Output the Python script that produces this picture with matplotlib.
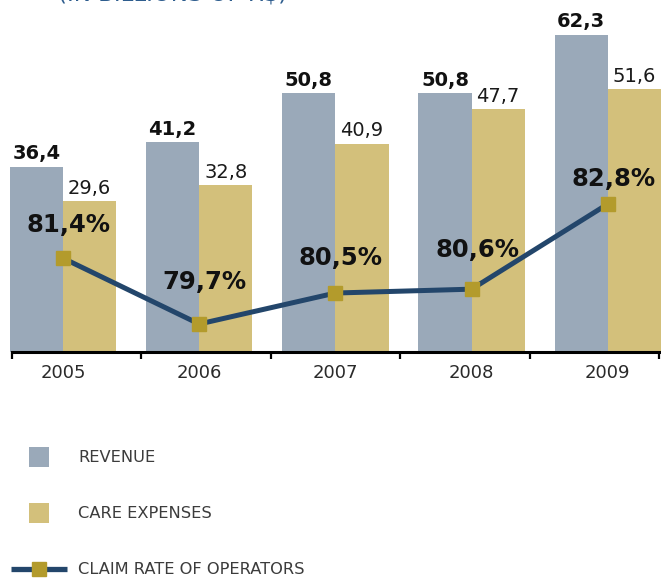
import numpy as np
import matplotlib
matplotlib.use("Agg")
import matplotlib.pyplot as plt
from matplotlib.patches import Rectangle
from matplotlib.lines import Line2D

# Data (values in billions of R$, claim rate in %)
years = ["2005", "2006", "2007", "2008", "2009"]
revenue = [36.4, 41.2, 50.8, 50.8, 62.3]
care_expenses = [29.6, 32.8, 40.9, 47.7, 51.6]
claim_rate = [81.4, 79.7, 80.5, 80.6, 82.8]

# Styling
REV_COLOR = "#9AA9B9"
EXP_COLOR = "#D3C07B"
LINE_COLOR = "#23466B"
MARK_COLOR = "#B39B2C"
TEXT_DARK = "#111111"
LEGEND_TEXT = "#3C3C3C"

W, H = 661, 578
DPI = 100
fig = plt.figure(figsize=(W / DPI, H / DPI), dpi=DPI)

# Axes covers the area from the figure top down to the baseline
base_px = 352
ax_left_px = 12
ax = fig.add_axes([ax_left_px / W, 1 - base_px / H, (W - ax_left_px) / W, base_px / H])
x = np.arange(len(years))
bw = 0.39
px_per_unit = 136.2
first_center_px = 63
x_left = (ax_left_px - first_center_px) / px_per_unit
x_right = (W - first_center_px) / px_per_unit
ax.set_xlim(x_left, x_right)
ax.set_ylim(0, base_px / 5.09)

ax.bar(x - bw / 2, revenue, width=bw, color=REV_COLOR, clip_on=False, zorder=2)
ax.bar(x + bw / 2, care_expenses, width=bw, color=EXP_COLOR, clip_on=False, zorder=2)

for xi, v in zip(x, revenue):
    ax.annotate(f"{v:.1f}".replace(".", ","), (xi - bw / 2, v), xytext=(0, 2.5),
                textcoords="offset points", ha="center", va="bottom",
                fontsize=14, fontweight="bold", color=TEXT_DARK)
for xi, v in zip(x, care_expenses):
    ax.annotate(f"{v:.1f}".replace(".", ","), (xi + bw / 2, v), xytext=(0, 2.5),
                textcoords="offset points", ha="center", va="bottom",
                fontsize=14, color="#1A1A1A")

# Spines and ticks
for s in ["top", "right", "left"]:
    ax.spines[s].set_visible(False)
ax.spines["bottom"].set_linewidth(2.2)
ax.spines["bottom"].set_color("#000000")
ax.set_yticks([])
ax.set_xticks(x)
ax.set_xticklabels(years, fontsize=13, color="#2A2A2A")
ax.tick_params(axis="x", which="major", length=0, pad=9)
ax.set_xticks(np.linspace(x_left, (659 - first_center_px) / px_per_unit, 6), minor=True)
ax.tick_params(axis="x", which="minor", length=5, width=1.6, color="#000000",
               direction="out")

# Claim rate line on a secondary scale
ax2 = ax.twinx()
ax2.set_ylim(79.7 - (base_px - 324) / 38.71, 82.8 + 204 / 38.71)
ax2.set_xlim(ax.get_xlim())
ax2.axis("off")
ax2.plot(x, claim_rate, color=LINE_COLOR, linewidth=3.6, zorder=3,
         marker="s", markersize=10, markerfacecolor=MARK_COLOR,
         markeredgecolor=MARK_COLOR, solid_capstyle="butt")
label_lift = [24, 30, 25, 28, 18]
for xi, v, lift in zip(x, claim_rate, label_lift):
    ax2.annotate(f"{v:.1f}%".replace(".", ","), (xi, v), xytext=(4, lift),
                 textcoords="offset points", ha="center", va="center",
                 fontsize=17.5, fontweight="bold", color=TEXT_DARK)

# Subtitle (partly above the top edge)
fig.text(58 / W, 1 - 0.5 / H, "(IN BILLIONS OF R$)", ha="left", va="baseline",
         fontsize=16.5, color="#2E5D8E")

# Legend
def px(xp, yp):
    return xp / W, 1 - yp / H

for yc, col, lab in [(457, REV_COLOR, "REVENUE"), (513, EXP_COLOR, "CARE EXPENSES")]:
    x0, y0 = px(29, yc + 10)
    fig.add_artist(Rectangle((x0, y0), 20 / W, 20 / H, transform=fig.transFigure,
                             facecolor=col, edgecolor="none"))
    fig.text(78 / W, 1 - yc / H, lab, ha="left", va="center",
             fontsize=11.7, color=LEGEND_TEXT)

ly = 569
fig.add_artist(Line2D([11 / W, 67 / W], [1 - ly / H] * 2, transform=fig.transFigure,
                      color=LINE_COLOR, linewidth=3.8, solid_capstyle="butt"))
fig.add_artist(Line2D([39 / W], [1 - ly / H], transform=fig.transFigure,
                      marker="s", markersize=10.5, markerfacecolor=MARK_COLOR,
                      markeredgecolor=MARK_COLOR, linestyle="none"))
fig.text(78 / W, 1 - ly / H, "CLAIM RATE OF OPERATORS", ha="left", va="center",
         fontsize=11.7, color=LEGEND_TEXT)

fig.savefig("out.png", dpi=DPI)
